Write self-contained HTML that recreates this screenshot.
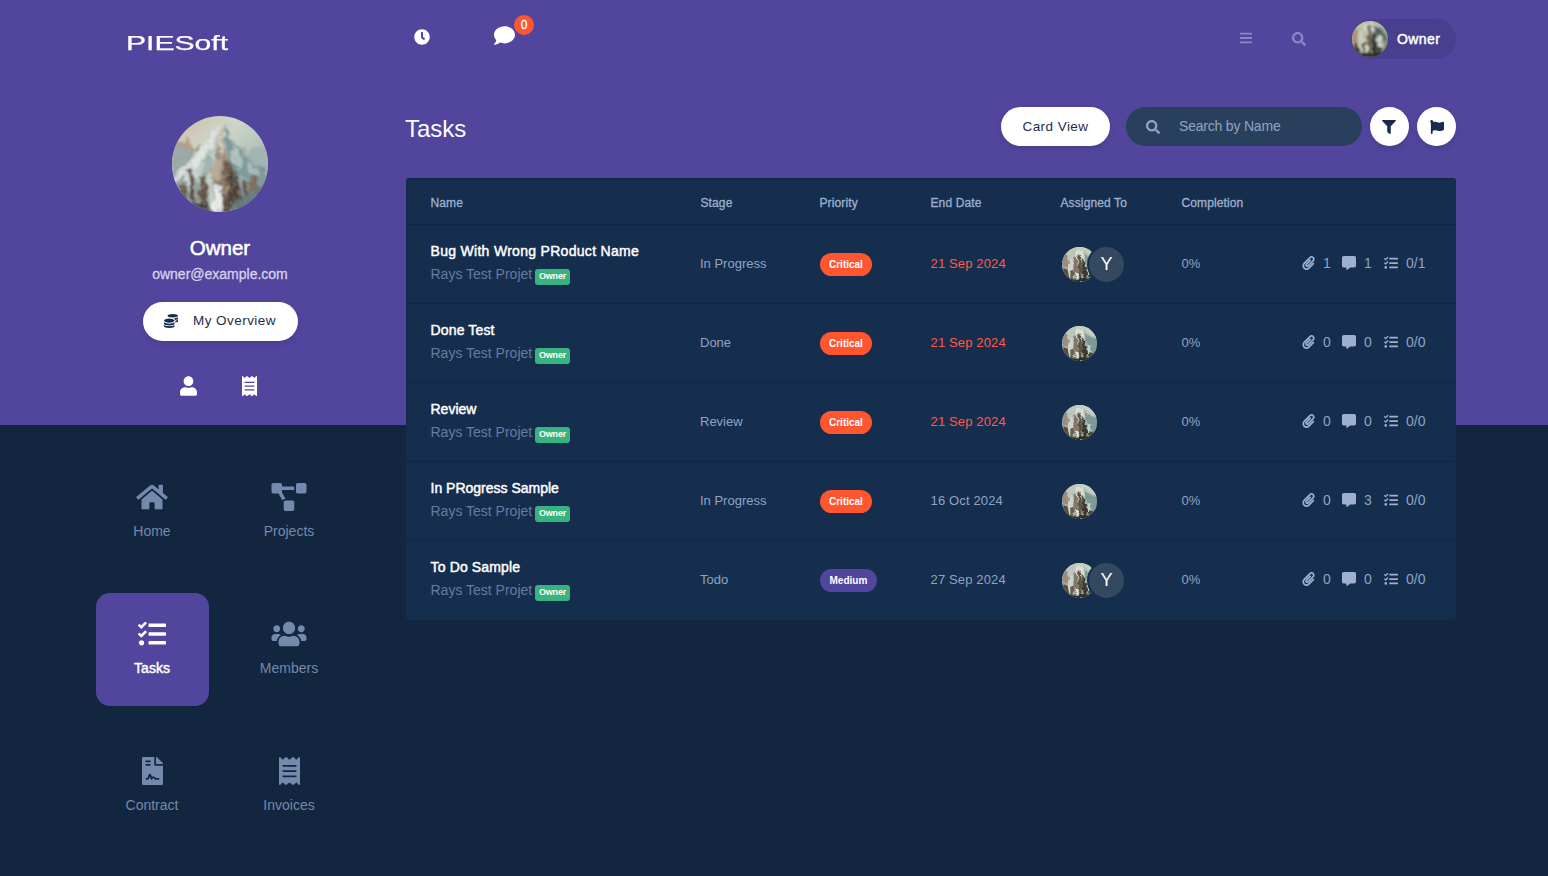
<!DOCTYPE html>
<html lang="en">
<head>
<meta charset="utf-8">
<title>Tasks</title>
<style>
*{box-sizing:border-box;margin:0;padding:0}
html,body{width:1548px;height:876px;overflow:hidden}
body{position:relative;background:#13263f;font-family:"Liberation Sans",sans-serif;color:#fff;font-size:14px}
.abs{position:absolute}
#purple{position:absolute;left:0;top:0;width:1548px;height:425px;background:#51459d}
svg{display:block}
.t{position:absolute;white-space:nowrap;line-height:1}
/* ---------- top bar ---------- */
#logo{left:125.5px;top:32px;font-size:21px;transform-origin:0 0;transform:scaleX(1.434);color:#fff;-webkit-text-stroke:.25px #fff}
#badge0{left:514px;top:15px;width:20px;height:20px;border-radius:50%;background:#ff5630;color:#fff;font-size:12px;text-align:center;line-height:20px;-webkit-text-stroke:.3px #fff}
#userpill{left:1351px;top:19px;width:105px;height:40px;border-radius:20px;background:#483f8f}
#userpill .nm{left:46px;top:13px;font-size:14px;letter-spacing:.4px;-webkit-text-stroke:.45px #fff}
/* ---------- profile ---------- */
#pname{left:120px;width:200px;top:238px;text-align:center;font-size:20.5px;-webkit-text-stroke:.55px #fff}
#pmail{left:120px;width:200px;top:267px;text-align:center;font-size:14px;-webkit-text-stroke:.3px #d6d2ec;color:#d6d2ec}
#ovbtn{left:143px;top:302px;width:155px;height:39px;border-radius:20px;background:#fff;color:#1f2d4a}
#ovbtn .lb{left:50px;top:12px;font-size:13.5px;letter-spacing:.45px}
/* ---------- nav ---------- */
.nav{position:absolute;width:113px;height:113px;border-radius:14px;color:#7489ab}
.nav.on{background:#51459d;color:#fff}
.nav .lb{position:absolute;left:-.5px;width:113px;text-align:center;top:68px;font-size:14px;line-height:1}
.nav.on .lb{-webkit-text-stroke:.45px #fff}
.nav svg{position:absolute;fill:currentColor;margin-left:-.5px}
/* ---------- page head ---------- */
#ptitle{left:405px;top:117px;font-size:24px;color:#fff}
#cardview{left:1001px;top:107px;width:109px;height:39px;border-radius:20px;background:#fff;color:#1f2d4a}
#cardview .lb{left:0;width:109px;text-align:center;top:13px;font-size:13.5px;letter-spacing:.45px}
#search{left:1126px;top:107px;width:236px;height:39px;border-radius:20px;background:#29405d}
#search .lb{left:53px;top:12px;font-size:14px;letter-spacing:-.2px;color:#8fa3c4}
.cbtn{position:absolute;width:39px;height:39px;border-radius:50%;background:#fff}
#ovbtn,#cardview,.cbtn{box-shadow:0 4px 6px rgba(50,50,93,.11),0 1px 3px rgba(0,0,0,.08)}
/* ---------- table ---------- */
#card{left:406px;top:178px;width:1050px;height:442px;background:#162e4e;border:1px solid #14294b;border-top-color:#11244a;border-radius:3px}
.hr{position:absolute;left:0;width:1048px;height:1px;background:#112646}
.th{position:absolute;top:18px;margin-left:-.5px;font-size:12px;letter-spacing:.12px;-webkit-text-stroke:.3px #9db0d0;color:#9db0d0;line-height:1;white-space:nowrap}
.row{position:absolute;left:0;width:1048px;height:79px}
.row .nm{left:23.5px;top:19px;font-size:14px;-webkit-text-stroke:.45px #fff;color:#fff}
.row .pj{left:23.5px;top:42.4px;font-size:14px;color:#667b9d}
.row .ow{left:128px;top:44px;letter-spacing:-.2px;width:35px;height:16px;border-radius:3px;background:#36b37e;color:#fff;font-size:9px;font-weight:bold;text-align:center;line-height:15px}
.row .st{left:293px;top:32px;font-size:13px;color:#8fa3c4}
.row .pr{left:413px;top:28px;height:23px;border-radius:12px;background:#ff5630;color:#fff;font-size:10px;font-weight:bold;line-height:23px;padding:0 9px}
.row .pr.med{background:#51459d;padding:0 9.5px}
.row .dt{left:523.5px;top:32px;font-size:13px;letter-spacing:.15px;color:#8fa3c4}
.row .dt.late{color:#ff5a45}
.row .cp{left:774.5px;top:32px;font-size:13px;color:#8fa3c4}
.row .av{position:absolute;left:655px;top:22px;width:35px;height:35px;border-radius:50%;overflow:hidden}
.row .av2{position:absolute;left:680px;top:20px;width:39px;height:39px;border-radius:50%;border:2px solid #162e4e;background:#34495f;color:#fff;font-size:18px;text-align:center;line-height:35px}
.row .ic{position:absolute;fill:#9db0d0}
.row .n{font-size:14px;color:#8fa3c4;top:31px}
</style>
</head>
<body>
<div id="purple"></div>

<svg width="0" height="0" style="position:absolute">
<defs>
<symbol id="i-clock" viewBox="0 0 512 512"><path d="M256,8C119,8,8,119,8,256S119,504,256,504,504,393,504,256,393,8,256,8Zm92.49,313h0l-20,25a16,16,0,0,1-22.49,2.5h0l-67-49.72a40,40,0,0,1-15-31.23V112a16,16,0,0,1,16-16h32a16,16,0,0,1,16,16V256l58,42.5A16,16,0,0,1,348.49,321Z"/></symbol>
<symbol id="i-comment" viewBox="0 0 512 512"><path d="M256 32C114.600 32 0 125.100 0 240c0 49.600 21.400 95 57 130.700C44.500 421.100 2.700 466 2.200 466.500c-2.200 2.300-2.800 5.700-1.500 8.700S4.800 480 8 480c66.300 0 116-31.800 140.600-51.400 32.700 12.300 69 19.400 107.400 19.400 141.400 0 256-93.100 256-208S397.400 32 256 32z"/></symbol>
<symbol id="i-bars" viewBox="0 0 448 512"><path d="M16 132h416c8.837 0 16-7.163 16-16V76c0-8.837-7.163-16-16-16H16C7.163 60 0 67.163 0 76v40c0 8.837 7.163 16 16 16zm0 160h416c8.837 0 16-7.163 16-16v-40c0-8.837-7.163-16-16-16H16c-8.837 0-16 7.163-16 16v40c0 8.837 7.163 16 16 16zm0 160h416c8.837 0 16-7.163 16-16v-40c0-8.837-7.163-16-16-16H16c-8.837 0-16 7.163-16 16v40c0 8.837 7.163 16 16 16z"/></symbol>
<symbol id="i-search" viewBox="0 0 512 512"><path d="M505 442.700L405.300 343c-4.500-4.500-10.600-7-17-7H372c27.600-35.300 44-79.700 44-128C416 93.100 322.900 0 208 0S0 93.100 0 208s93.100 208 208 208c48.300 0 92.700-16.400 128-44v16.300c0 6.400 2.500 12.500 7 17l99.700 99.700c9.400 9.400 24.600 9.400 33.900 0l28.300-28.300c9.400-9.400 9.400-24.600.100-34zM208 336c-70.700 0-128-57.200-128-128 0-70.700 57.200-128 128-128 70.700 0 128 57.200 128 128 0 70.700-57.200 128-128 128z"/></symbol>
<symbol id="i-filter" viewBox="0 0 512 512"><path d="M487.976 0H24.028C2.710 0-8.047 25.866 7.058 40.971L192 225.941V432c0 7.831 3.821 15.170 10.237 19.662l80 55.980C298.020 518.690 320 507.493 320 487.980V225.941l184.947-184.970C520.021 25.896 509.338 0 487.976 0z"/></symbol>
<symbol id="i-flag" viewBox="0 0 512 512"><path d="M349.565 98.783C295.978 98.783 251.721 64 184.348 64c-24.955 0-47.309 4.384-68.045 12.013a55.947 55.947 0 0 0 3.586-23.562C118.117 24.015 94.806 1.206 66.338.048 34.345-1.254 8 24.296 8 56c0 19.026 9.497 35.825 24 45.945V488c0 13.255 10.745 24 24 24h16c13.255 0 24-10.745 24-24v-94.400c28.311-12.064 63.582-22.122 114.435-22.122 53.588 0 97.844 34.783 165.217 34.783 48.169 0 86.667-16.294 122.505-40.858C506.840 359.452 512 349.571 512 339.045v-243.100c0-23.393-24.269-38.870-45.485-29.016-34.338 15.948-76.454 31.854-116.950 31.854z"/></symbol>
<symbol id="i-user" viewBox="0 0 448 512"><path d="M224 256c70.700 0 128-57.300 128-128S294.700 0 224 0 96 57.300 96 128s57.300 128 128 128zm89.600 32h-16.700c-22.200 10.200-46.900 16-72.900 16s-50.600-5.800-72.900-16h-16.700C60.200 288 0 348.200 0 422.400V464c0 26.500 21.500 48 48 48h352c26.500 0 48-21.500 48-48v-41.600c0-74.200-60.200-134.400-134.400-134.400z"/></symbol>
<symbol id="i-receipt" viewBox="0 0 384 512"><path d="M358.400 3.200L320 48 265.600 3.200a15.900 15.900 0 0 0-19.200 0L192 48 137.600 3.200a15.900 15.900 0 0 0-19.200 0L64 48 25.600 3.200C15-4.700 0 2.800 0 16v480c0 13.200 15 20.700 25.600 12.800L64 464l54.400 44.800a15.900 15.900 0 0 0 19.200 0L192 464l54.400 44.800a15.900 15.900 0 0 0 19.200 0L320 464l38.400 44.800c10.500 7.900 25.600.400 25.600-12.800V16c0-13.200-15-20.700-25.600-12.800zM320 360c0 4.400-3.600 8-8 8H72c-4.400 0-8-3.600-8-8v-16c0-4.400 3.600-8 8-8h240c4.400 0 8 3.600 8 8v16zm0-96c0 4.400-3.600 8-8 8H72c-4.400 0-8-3.600-8-8v-16c0-4.400 3.600-8 8-8h240c4.400 0 8 3.600 8 8v16zm0-96c0 4.400-3.600 8-8 8H72c-4.400 0-8-3.600-8-8v-16c0-4.400 3.600-8 8-8h240c4.400 0 8 3.600 8 8v16z"/></symbol>
<symbol id="i-home" viewBox="0 0 576 512"><path d="M280.370 148.260L96 300.110V464a16 16 0 0 0 16 16l112.060-.290a16 16 0 0 0 15.920-16V368a16 16 0 0 1 16-16h64a16 16 0 0 1 16 16v95.640a16 16 0 0 0 16 16.050L464 480a16 16 0 0 0 16-16V300L295.670 148.260a12.190 12.190 0 0 0-15.300 0zM571.600 251.470L488 182.560V44.050a12 12 0 0 0-12-12h-56a12 12 0 0 0-12 12v72.610L318.470 43a48 48 0 0 0-61 0L4.340 251.470a12 12 0 0 0-1.600 16.900l25.500 31A12 12 0 0 0 45.150 301l235.220-193.740a12.190 12.190 0 0 1 15.300 0L530.900 301a12 12 0 0 0 16.900-1.600l25.500-31a12 12 0 0 0-1.700-16.930z"/></symbol>
<symbol id="i-project" viewBox="0 0 640 512"><path d="M384 320H256c-17.670 0-32 14.330-32 32v128c0 17.670 14.330 32 32 32h128c17.670 0 32-14.330 32-32V352c0-17.670-14.330-32-32-32zM192 32c0-17.670-14.330-32-32-32H32C14.330 0 0 14.330 0 32v128c0 17.670 14.330 32 32 32h95.720l73.160 128.040C211.980 300.980 232.400 288 256 288h.280L192 175.510V128h224V64H192V32zM608 0H480c-17.670 0-32 14.330-32 32v128c0 17.670 14.330 32 32 32h128c17.670 0 32-14.330 32-32V32c0-17.670-14.330-32-32-32z"/></symbol>
<symbol id="i-tasks" viewBox="0 0 512 512"><path d="M139.610 35.500a12 12 0 0 0-17 0L58.930 98.810l-22.700-22.120a12 12 0 0 0-17 0L3.530 92.410a12 12 0 0 0 0 17l47.590 47.400a12.780 12.780 0 0 0 17.610 0l15.590-15.620L156.520 69a12.090 12.090 0 0 0 .09-17zm0 159.190a12 12 0 0 0-17 0l-63.680 63.720-22.700-22.100a12 12 0 0 0-17 0L3.530 252a12 12 0 0 0 0 17L51 316.500a12.770 12.770 0 0 0 17.600 0l15.700-15.690 72.200-72.220a12 12 0 0 0 .09-16.900zM64 368c-26.490 0-48.590 21.500-48.590 48S37.530 464 64 464a48 48 0 0 0 0-96zm432 16H208a16 16 0 0 0-16 16v32a16 16 0 0 0 16 16h288a16 16 0 0 0 16-16v-32a16 16 0 0 0-16-16zm0-320H208a16 16 0 0 0-16 16v32a16 16 0 0 0 16 16h288a16 16 0 0 0 16-16V80a16 16 0 0 0-16-16zm0 160H208a16 16 0 0 0-16 16v32a16 16 0 0 0 16 16h288a16 16 0 0 0 16-16v-32a16 16 0 0 0-16-16z"/></symbol>
<symbol id="i-users" viewBox="0 0 640 512"><path d="M96 224c35.300 0 64-28.700 64-64s-28.700-64-64-64-64 28.700-64 64 28.700 64 64 64zm448 0c35.300 0 64-28.700 64-64s-28.700-64-64-64-64 28.700-64 64 28.700 64 64 64zm32 32h-64c-17.600 0-33.500 7.100-45.100 18.600 40.300 22.100 68.900 62 75.100 109.400h66c17.700 0 32-14.300 32-32v-32c0-35.300-28.700-64-64-64zm-256 0c61.900 0 112-50.100 112-112S381.900 32 320 32 208 82.100 208 144s50.100 112 112 112zm76.800 32h-8.300c-20.800 10-43.900 16-68.500 16s-47.600-6-68.500-16h-8.300C179.600 288 128 339.600 128 403.200V432c0 26.500 21.500 48 48 48h288c26.500 0 48-21.500 48-48v-28.800c0-63.600-51.600-115.200-115.200-115.200zm-223.700-13.400C161.500 263.100 145.600 256 128 256H64c-35.300 0-64 28.700-64 64v32c0 17.700 14.300 32 32 32h65.900c6.300-47.400 34.900-87.300 75.200-109.400z"/></symbol>
<symbol id="i-contract" viewBox="0 0 384 512"><path d="M224 136V0H24C10.700 0 0 10.700 0 24v464c0 13.300 10.700 24 24 24h336c13.300 0 24-10.700 24-24V160H248c-13.200 0-24-10.800-24-24zM64 72c0-4.420 3.580-8 8-8h80c4.420 0 8 3.580 8 8v16c0 4.420-3.580 8-8 8H72c-4.420 0-8-3.580-8-8V72zm0 64c0-4.420 3.580-8 8-8h80c4.420 0 8 3.580 8 8v16c0 4.420-3.580 8-8 8H72c-4.420 0-8-3.580-8-8v-16zm192.810 248H304c8.840 0 16 7.160 16 16s-7.160 16-16 16h-47.190c-16.450 0-31.270-9.140-38.640-23.860-2.950-5.920-8.090-6.520-10.170-6.520s-7.220.590-10.020 6.190l-7.670 15.340a15.986 15.986 0 0 1-14.310 8.840c-.380 0-.750-.020-1.140-.050-6.450-.450-12-4.750-14.030-10.890L144 354.590l-10.610 31.880c-5.890 17.660-22.380 29.530-41 29.530H80c-8.840 0-16-7.160-16-16s7.160-16 16-16h12.390c4.830 0 9.110-3.080 10.640-7.660l18.190-54.640c3.300-9.810 12.440-16.410 22.780-16.410s19.480 6.590 22.770 16.410l13.880 41.640c19.770-16.190 54.050-9.700 66 14.160 2.020 4.060 5.960 6.500 10.160 6.500zM377 105L279.100 7c-4.500-4.500-10.600-7-17-7H256v128h128v-6.100c0-6.300-2.500-12.400-7-16.900z"/></symbol>
<symbol id="i-coins" viewBox="0 0 512 512"><path d="M0 405.300V448c0 35.300 86 64 192 64s192-28.700 192-64v-42.700C342.700 434.400 267.200 448 192 448S41.300 434.400 0 405.300zM320 128c106 0 192-28.700 192-64S426 0 320 0 128 28.700 128 64s86 64 192 64zM0 300.400V352c0 35.300 86 64 192 64s192-28.700 192-64v-51.600c-41.300 34-116.900 51.600-192 51.600S41.300 334.400 0 300.400zm416 11c57.300-11.100 96-31.700 96-55.400v-42.700c-23.200 16.400-57.300 27.600-96 34.500v63.600zM192 160C86 160 0 195.800 0 240s86 80 192 80 192-35.800 192-80-86-80-192-80zm219.300 56.300c60-10.800 100.700-32 100.700-56.300v-42.700c-35.500 25.100-96.500 38.600-160.700 41.800 29.500 14.300 51.200 33.500 60 57.200z"/></symbol>
<symbol id="i-clip" viewBox="0 0 448 512"><path d="M43.246 466.142c-58.430-60.289-57.341-157.511 1.386-217.581L254.392 34c44.316-45.332 116.351-45.336 160.671 0 43.890 44.894 43.943 117.329 0 162.276L232.214 383.128c-29.855 30.537-78.633 30.111-107.982-.998-28.275-29.970-27.368-77.473 1.452-106.953l143.743-146.835c6.182-6.314 16.312-6.422 22.626-.241l22.861 22.379c6.315 6.182 6.422 16.312.241 22.626L171.427 319.927c-4.932 5.045-5.236 13.428-.648 18.292 4.372 4.634 11.245 4.711 15.688.165l182.849-186.851c19.613-20.062 19.613-52.725-.011-72.798-19.189-19.627-49.957-19.637-69.154 0L90.390 293.295c-34.763 35.560-35.299 93.120-1.191 128.313 34.010 35.093 88.985 35.137 123.058.286l172.060-175.999c6.177-6.319 16.307-6.433 22.626-.256l22.877 22.364c6.319 6.177 6.434 16.307.256 22.626l-172.060 175.998c-59.576 60.938-155.943 60.216-214.770-.485z"/></symbol>
<symbol id="i-calt" viewBox="0 0 512 512"><path d="M448 0H64C28.700 0 0 28.700 0 64v288c0 35.300 28.700 64 64 64h96v84c0 9.800 11.200 15.500 19.100 9.700L304 416h144c35.300 0 64-28.700 64-64V64c0-35.300-28.700-64-64-64z"/></symbol>
<filter id="bl" x="-10%" y="-10%" width="120%" height="120%"><feTurbulence type="fractalNoise" baseFrequency=".09" numOctaves="3" seed="7" result="n"/><feDisplacementMap in="SourceGraphic" in2="n" scale="14" xChannelSelector="R" yChannelSelector="G" result="d"/><feGaussianBlur in="d" stdDeviation=".9" result="b"/><feTurbulence type="fractalNoise" baseFrequency=".22" numOctaves="2" seed="3" result="n2"/><feColorMatrix in="n2" type="matrix" values="0 0 0 0 .35  0 0 0 0 .32  0 0 0 0 .28  .8 0 0 0 -.34" result="dk"/><feComposite in="dk" in2="b" operator="atop"/></filter>
<linearGradient id="sky" x1="0" y1="0" x2="1" y2="1"><stop offset="0" stop-color="#cdbba6"/><stop offset=".35" stop-color="#cfd6c8"/><stop offset="1" stop-color="#8fa9a4"/></linearGradient>
<symbol id="avatar" viewBox="0 0 100 100">
<rect width="100" height="100" fill="url(#sky)"/>
<g filter="url(#bl)">
<polygon points="0,20 8,28 16,22 24,34 30,28 36,38 0,60" fill="#b39d8b"/>
<polygon points="0,36 10,30 20,40 28,36 36,46 0,70" fill="#9aaba8"/>
<polygon points="100,34 90,30 82,38 74,32 64,44 100,74" fill="#a3b7b2"/>
<polygon points="52,5 62,24 76,42 100,58 100,100 0,100 0,62 20,44 40,20" fill="#c3d0cb"/>
<polygon points="54,8 62,24 76,42 100,58 100,100 62,100 60,50" fill="#7d999b"/>
<polygon points="64,28 72,42 68,58 62,42" fill="#b1c4c1"/>
<polygon points="80,48 90,56 86,72 78,60" fill="#a9bdba"/>
<polygon points="70,60 78,66 76,80 68,72" fill="#98afad"/>
<polygon points="52,5 40,20 20,44 0,62 0,76 28,52 44,28" fill="#dfe6e1"/>
<polygon points="30,48 40,38 42,58 34,68" fill="#a2b6b3"/>
<polygon points="10,60 22,50 26,64 16,74" fill="#d3dcd8"/>
<polygon points="50,14 54,14 57,36 61,52 63,100 42,100 42,58 47,36" fill="#a08f7b"/>
<polygon points="50,8 53,8 55,30 52,40 49,30" fill="#d2cbbd"/>
<polygon points="42,46 51,42 51,64 42,66" fill="#bcaa94"/>
<polygon points="53,44 62,50 64,74 55,72" fill="#6a5a4e"/>
<polygon points="45,64 55,66 55,78 45,76" fill="#85725f"/>
<polygon points="0,70 10,62 16,78 24,64 32,74 38,100 0,100" fill="#94a4a0"/>
<polygon points="17,58 22,56 25,88 19,92" fill="#54483e"/>
<polygon points="9,72 14,70 16,94 10,94" fill="#6d6052"/>
<polygon points="29,62 35,60 37,90 30,94" fill="#655445"/>
<polygon points="60,62 67,58 71,92 60,98" fill="#50433a"/>
<polygon points="72,70 78,68 80,94 72,96" fill="#67574a"/>
<polygon points="80,60 89,64 93,86 82,92" fill="#7e6a58"/>
<polygon points="70,82 100,72 100,100 64,100" fill="#627a7b"/>
<polygon points="43,74 50,72 51,100 42,100" fill="#e8edeb"/>
<polygon points="22,90 40,88 42,100 20,100" fill="#48423c"/>
<polygon points="52,84 62,82 64,100 52,100" fill="#574a3f"/>
</g>
</symbol>
<linearGradient id="sky3" x1="0" y1="0" x2="1" y2="1"><stop offset="0" stop-color="#cfc6ad"/><stop offset=".45" stop-color="#b4b9a4"/><stop offset="1" stop-color="#5f7468"/></linearGradient>
<symbol id="avatar3" viewBox="0 0 100 100">
<rect width="100" height="100" fill="url(#sky3)"/>
<g filter="url(#bl3)">
<polygon points="0,20 16,24 14,60 0,70" fill="#a88f78"/>
<polygon points="30,10 56,6 72,20 60,40 40,36" fill="#d6dccd"/>
<polygon points="60,12 84,26 98,50 80,60 66,40" fill="#4f665e"/>
<polygon points="44,10 52,12 56,60 50,96 42,60" fill="#6d5e4c"/>
<polygon points="20,30 30,26 34,70 24,96 16,70" fill="#c9cbb8"/>
<polygon points="56,30 64,34 70,80 62,98 56,70" fill="#2f342f"/>
<polygon points="70,44 80,40 86,70 78,86" fill="#cdd6c8"/>
<polygon points="6,60 16,64 22,96 8,96" fill="#3b3a33"/>
<polygon points="28,62 38,58 42,96 30,98" fill="#4a463c"/>
<polygon points="36,70 44,68 46,98 36,98" fill="#d9dccf"/>
<polygon points="72,70 82,74 84,98 70,98" fill="#3a4038"/>
<polygon points="10,88 90,88 90,100 10,100" fill="#2d2c28"/>
</g>
</symbol>
<filter id="bl3" x="-10%" y="-10%" width="120%" height="120%"><feTurbulence type="fractalNoise" baseFrequency=".08" numOctaves="2" seed="11" result="n"/><feDisplacementMap in="SourceGraphic" in2="n" scale="16" xChannelSelector="R" yChannelSelector="G" result="d"/><feGaussianBlur in="d" stdDeviation="3.2"/></filter>
<linearGradient id="sky2" x1="0" y1="0" x2="1" y2="1"><stop offset="0" stop-color="#c8cbbd"/><stop offset=".5" stop-color="#b1c0b9"/><stop offset="1" stop-color="#6b7c79"/></linearGradient>
<symbol id="avatar2" viewBox="0 0 100 100">
<rect width="100" height="100" fill="url(#sky2)"/>
<g filter="url(#bl2)">
<polygon points="30,0 100,0 100,40 84,28 66,10" fill="#c3d0c2"/>
<polygon points="0,24 16,22 22,44 12,60 0,56" fill="#9c8c7c"/>
<polygon points="64,20 80,30 100,44 100,78 84,70 70,44" fill="#7b9996"/>
<polygon points="40,8 56,8 64,30 50,40 36,30" fill="#d9ded2"/>
<polygon points="20,40 30,34 34,70 26,94 16,70" fill="#ccd4cc"/>
<polygon points="34,34 42,26 46,70 40,96 32,70" fill="#857768"/>
<polygon points="47,22 54,26 58,70 52,98 46,70" fill="#5f5142"/>
<polygon points="58,36 66,42 72,80 66,98 58,76" fill="#3c3832"/>
<polygon points="72,56 82,60 86,84 76,92" fill="#c9d2c8"/>
<polygon points="4,60 16,64 22,96 6,96" fill="#57503f"/>
<polygon points="24,70 32,66 34,98 24,98" fill="#6b5d4a"/>
<polygon points="38,72 46,70 48,98 38,98" fill="#e0e4da"/>
<polygon points="78,74 88,78 90,98 76,98" fill="#4a4a40"/>
<polygon points="8,90 92,90 92,100 8,100" fill="#2f2e2a"/>
</g>
</symbol>
<filter id="bl2" x="-10%" y="-10%" width="120%" height="120%"><feTurbulence type="fractalNoise" baseFrequency=".08" numOctaves="2" seed="5" result="n"/><feDisplacementMap in="SourceGraphic" in2="n" scale="14" xChannelSelector="R" yChannelSelector="G" result="d"/><feGaussianBlur in="d" stdDeviation="1.9"/></filter>
</defs>
</svg>


<!-- top bar -->
<div class="t" id="logo">PIESoft</div>
<svg class="abs " style="left:414px;top:29px;fill:#fff;" width="16" height="16"><use href="#i-clock"/></svg>
<svg class="abs " style="left:494px;top:25.2px;fill:#fff;" width="21" height="21"><use href="#i-comment"/></svg>
<div class="t" id="badge0">0</div>
<svg class="abs " style="left:1239.8px;top:31px;fill:#8d86c3;" width="12.25" height="14"><use href="#i-bars"/></svg>
<svg class="abs " style="left:1292px;top:31.5px;fill:#8d86c3;" width="14" height="14"><use href="#i-search"/></svg>
<div class="abs" id="userpill"><svg class="abs" style="left:1px;top:2px;border-radius:50%" width="36" height="36"><use href="#avatar3"/></svg><div class="t nm">Owner</div></div>
<svg class="abs" style="left:172px;top:116px;border-radius:50%" width="96" height="96"><use href="#avatar"/></svg>
<div class="t" id="pname">Owner</div>
<div class="t" id="pmail">owner@example.com</div>
<div class="abs" id="ovbtn"><svg class="abs " style="left:21px;top:12px;fill:#172b4d;" width="14" height="14"><use href="#i-coins"/></svg><div class="t lb">My Overview</div></div>
<svg class="abs " style="left:180px;top:376px;fill:#fff;" width="17" height="20"><use href="#i-user"/></svg>
<svg class="abs " style="left:242px;top:376px;fill:#fff;" width="15" height="20"><use href="#i-receipt"/></svg>
<div class="nav" style="left:96px;top:456px"><svg style="left:40.5px;top:27px" width="32" height="28"><use href="#i-home"/></svg><div class="lb">Home</div></div>
<div class="nav" style="left:233px;top:456px"><svg style="left:38.5px;top:27px" width="36" height="28"><use href="#i-project"/></svg><div class="lb">Projects</div></div>
<div class="nav on" style="left:96px;top:593px"><svg style="left:42.5px;top:27px" width="28" height="28"><use href="#i-tasks"/></svg><div class="lb">Tasks</div></div>
<div class="nav" style="left:233px;top:593px"><svg style="left:38.5px;top:27px" width="36" height="28"><use href="#i-users"/></svg><div class="lb">Members</div></div>
<div class="nav" style="left:96px;top:730px"><svg style="left:46.0px;top:27px" width="21" height="28"><use href="#i-contract"/></svg><div class="lb">Contract</div></div>
<div class="nav" style="left:233px;top:730px"><svg style="left:46.0px;top:27px" width="21" height="28"><use href="#i-receipt"/></svg><div class="lb">Invoices</div></div>
<div class="t" id="ptitle">Tasks</div>
<div class="abs" id="cardview"><div class="t lb">Card View</div></div>
<div class="abs" id="search"><svg class="abs " style="left:20px;top:13px;fill:#8fa3c4;" width="14" height="14"><use href="#i-search"/></svg><div class="t lb">Search by Name</div></div>
<div class="cbtn" style="left:1370px;top:107px"><svg class="abs " style="left:12.3px;top:12.8px;fill:#172b4d;" width="14" height="14"><use href="#i-filter"/></svg></div>
<div class="cbtn" style="left:1417px;top:107px"><svg class="abs " style="left:12.5px;top:12.8px;fill:#172b4d;" width="14" height="14"><use href="#i-flag"/></svg></div>
<div class="abs" id="card">
<div class="th" style="left:24px">Name</div>
<div class="th" style="left:294px">Stage</div>
<div class="th" style="left:413px">Priority</div>
<div class="th" style="left:524px">End Date</div>
<div class="th" style="left:654px">Assigned To</div>
<div class="th" style="left:775px">Completion</div>
<div class="hr" style="top:45px"></div>
<div class="row" style="top:46px"><div class="t nm" style="letter-spacing:.3px">Bug With Wrong PRoduct Name</div><div class="t pj">Rays Test Projet</div><div class="t ow">Owner</div><div class="t st">In Progress</div><div class="t pr">Critical</div><div class="t dt late">21 Sep 2024</div><svg class="av" width="35" height="35"><use href="#avatar2"/></svg><div class="av2">Y</div><div class="t cp">0%</div><svg class="ic" style="left:894.5px;top:31px" width="13" height="14"><use href="#i-clip"/></svg><div class="t n" style="left:916px">1</div><svg class="ic" style="left:935px;top:31px" width="14" height="14"><use href="#i-calt"/></svg><div class="t n" style="left:957px">1</div><svg class="ic" style="left:977px;top:30.5px" width="14" height="14"><use href="#i-tasks"/></svg><div class="t n" style="left:999px">0/1</div></div>
<div class="hr" style="top:124px"></div>
<div class="row" style="top:125px"><div class="t nm" style="letter-spacing:.15px">Done Test</div><div class="t pj">Rays Test Projet</div><div class="t ow">Owner</div><div class="t st">Done</div><div class="t pr">Critical</div><div class="t dt late">21 Sep 2024</div><svg class="av" width="35" height="35"><use href="#avatar2"/></svg><div class="t cp">0%</div><svg class="ic" style="left:894.5px;top:31px" width="13" height="14"><use href="#i-clip"/></svg><div class="t n" style="left:916px">0</div><svg class="ic" style="left:935px;top:31px" width="14" height="14"><use href="#i-calt"/></svg><div class="t n" style="left:957px">0</div><svg class="ic" style="left:977px;top:30.5px" width="14" height="14"><use href="#i-tasks"/></svg><div class="t n" style="left:999px">0/0</div></div>
<div class="hr" style="top:203px"></div>
<div class="row" style="top:204px"><div class="t nm">Review</div><div class="t pj">Rays Test Projet</div><div class="t ow">Owner</div><div class="t st">Review</div><div class="t pr">Critical</div><div class="t dt late">21 Sep 2024</div><svg class="av" width="35" height="35"><use href="#avatar2"/></svg><div class="t cp">0%</div><svg class="ic" style="left:894.5px;top:31px" width="13" height="14"><use href="#i-clip"/></svg><div class="t n" style="left:916px">0</div><svg class="ic" style="left:935px;top:31px" width="14" height="14"><use href="#i-calt"/></svg><div class="t n" style="left:957px">0</div><svg class="ic" style="left:977px;top:30.5px" width="14" height="14"><use href="#i-tasks"/></svg><div class="t n" style="left:999px">0/0</div></div>
<div class="hr" style="top:282px"></div>
<div class="row" style="top:283px"><div class="t nm">In PRogress Sample</div><div class="t pj">Rays Test Projet</div><div class="t ow">Owner</div><div class="t st">In Progress</div><div class="t pr">Critical</div><div class="t dt">16 Oct 2024</div><svg class="av" width="35" height="35"><use href="#avatar2"/></svg><div class="t cp">0%</div><svg class="ic" style="left:894.5px;top:31px" width="13" height="14"><use href="#i-clip"/></svg><div class="t n" style="left:916px">0</div><svg class="ic" style="left:935px;top:31px" width="14" height="14"><use href="#i-calt"/></svg><div class="t n" style="left:957px">3</div><svg class="ic" style="left:977px;top:30.5px" width="14" height="14"><use href="#i-tasks"/></svg><div class="t n" style="left:999px">0/0</div></div>
<div class="hr" style="top:361px"></div>
<div class="row" style="top:362px"><div class="t nm" style="letter-spacing:.15px">To Do Sample</div><div class="t pj">Rays Test Projet</div><div class="t ow">Owner</div><div class="t st">Todo</div><div class="t pr med">Medium</div><div class="t dt">27 Sep 2024</div><svg class="av" width="35" height="35"><use href="#avatar2"/></svg><div class="av2">Y</div><div class="t cp">0%</div><svg class="ic" style="left:894.5px;top:31px" width="13" height="14"><use href="#i-clip"/></svg><div class="t n" style="left:916px">0</div><svg class="ic" style="left:935px;top:31px" width="14" height="14"><use href="#i-calt"/></svg><div class="t n" style="left:957px">0</div><svg class="ic" style="left:977px;top:30.5px" width="14" height="14"><use href="#i-tasks"/></svg><div class="t n" style="left:999px">0/0</div></div>
</div>
</body>
</html>
